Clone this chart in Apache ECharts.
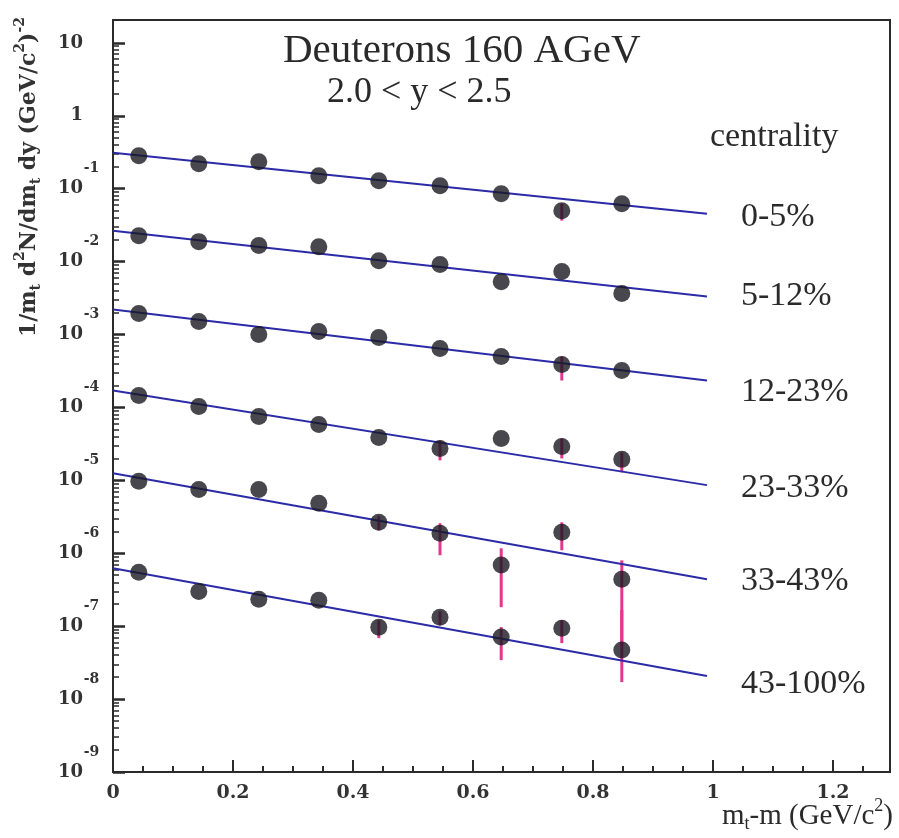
<!DOCTYPE html>
<html><head><meta charset="utf-8">
<script src="https://cdn.jsdelivr.net/npm/echarts@6/dist/echarts.min.js"></script>
<style>html,body{margin:0;padding:0;background:#fff}#c{width:899px;height:838px}</style>
</head><body><div id="c"></div>
<script>
// ---- data ----
const xValues = [0.043, 0.143, 0.243, 0.343, 0.443, 0.545, 0.647, 0.748, 0.848];
const centralityLabels = ['0-5%', '5-12%', '12-23%', '23-33%', '33-43%', '43-100%'];

const yield_0_5    = [0.283, 0.22, 0.234, 0.151, 0.129, 0.11, 0.0855, 0.05, 0.0624];
const yield_5_12   = [0.0227, 0.0188, 0.0166, 0.016, 0.0103, 0.0091, 0.0053, 0.0073, 0.00365];
const yield_12_23  = [0.00194, 0.00151, 0.001, 0.0011, 0.00091, 0.000643, 0.0005, 0.000388, 0.000321];
const yield_23_33  = [1.46e-4, 1.03e-4, 7.5e-5, 5.85e-5, 3.88e-5, 2.74e-5, 3.76e-5, 2.92e-5, 1.94e-5];
const yield_33_43  = [9.7e-6, 7.5e-6, 7.5e-6, 4.84e-6, 2.66e-6, 1.88e-6, 6.9e-7, 1.94e-6, 4.4e-7];
const yield_43_100 = [5.5e-7, 3.0e-7, 2.34e-7, 2.27e-7, 9.7e-8, 1.33e-7, 7.1e-8, 9.4e-8, 4.7e-8];

const errLo_0_5    = [null, null, null, null, null, null, null, 0.0365, null];
const errHi_0_5    = [null, null, null, null, null, null, null, 0.0624, null];
const errLo_5_12   = [null, null, null, null, null, null, null, null, null];
const errHi_5_12   = [null, null, null, null, null, null, null, null, null];
const errLo_12_23  = [null, null, null, null, null, null, null, 2.34e-4, null];
const errHi_12_23  = [null, null, null, null, null, null, null, 5.0e-4, null];
const errLo_23_33  = [null, null, null, null, null, 1.88e-5, null, 2.0e-5, 1.29e-5];
const errHi_23_33  = [null, null, null, null, null, 3.53e-5, null, 3.76e-5, 2.42e-5];
const errLo_33_43  = [null, null, null, null, 2.07e-6, 9.4e-7, 1.82e-7, 1.1e-6, 5.5e-8];
const errHi_33_43  = [null, null, null, null, 3.21e-6, 2.58e-6, 1.17e-6, 2.66e-6, 8.0e-7];
const errLo_43_100 = [null, null, null, null, 6.86e-8, 1.03e-7, 3.42e-8, 5.85e-8, 1.71e-8];
const errHi_43_100 = [null, null, null, null, 1.21e-7, 1.6e-7, 9.7e-8, 1.21e-7, 1.66e-7];

const fitX = [0, 0.99];
const fit_0_5    = [0.311, 0.0455];
const fit_5_12   = [0.0266, 0.00332];
const fit_12_23  = [0.0022, 2.34e-4];
const fit_23_33  = [1.71e-4, 8.6e-6];
const fit_33_43  = [1.25e-5, 4.4e-7];
const fit_43_100 = [6.24e-7, 2.07e-8];

const xMajorTicks = [0, 0.2, 0.4, 0.6, 0.8, 1, 1.2];
const xMinorTicks = [0.05, 0.1, 0.15, 0.25, 0.3, 0.35, 0.45, 0.5, 0.55, 0.65, 0.7, 0.75, 0.85, 0.9, 0.95, 1.05, 1.1, 1.15, 1.25];
const yDecadeTicks = [1e-9, 1e-8, 1e-7, 1e-6, 1e-5, 1e-4, 1e-3, 1e-2, 1e-1, 1, 10];
const yMinorTicks = [];
yDecadeTicks.slice(0, -1).forEach(d => { for (let k = 2; k <= 9; k++) yMinorTicks.push(+(k * d).toPrecision(3)); });

const yieldSets = [yield_0_5, yield_5_12, yield_12_23, yield_23_33, yield_33_43, yield_43_100];
const errLoSets = [errLo_0_5, errLo_5_12, errLo_12_23, errLo_23_33, errLo_33_43, errLo_43_100];
const errHiSets = [errHi_0_5, errHi_5_12, errHi_12_23, errHi_23_33, errHi_33_43, errHi_43_100];
const fitSets = [fit_0_5, fit_5_12, fit_12_23, fit_23_33, fit_33_43, fit_43_100];
const labelShift = [3, 0, 12, 3, 2, 8];

// ---- chart ----
const SERIF = 'Liberation Serif';
const DV = 'DejaVu Serif';
const INK = '#2a2a2a';
const X_MIN = 0, X_MAX = 1.295, Y_MIN = 1e-9, Y_MAX = 20.6;

const series = [];
centralityLabels.forEach((name, i) => {
  series.push({
    type: 'custom', name: name + ' err', xAxisIndex: 0, yAxisIndex: 0, z: 3,
    data: xValues.map((x, j) => [x, errLoSets[i][j], errHiSets[i][j]]).filter(d => d[1] != null),
    encode: { x: 0, y: [1, 2] },
    renderItem: (params, api) => {
      const a = api.coord([api.value(0), api.value(1)]);
      const b = api.coord([api.value(0), api.value(2)]);
      return { type: 'line', shape: { x1: a[0], y1: a[1], x2: b[0], y2: b[1] },
               style: { stroke: '#e2378c', lineWidth: 3 } };
    },
    silent: true
  });
  series.push({
    type: 'line', name: name, xAxisIndex: 0, yAxisIndex: 0, z: 4,
    data: fitX.map((x, j) => [x, fitSets[i][j]]),
    showSymbol: false, symbol: 'none', silent: true,
    lineStyle: { color: '#2b2ba8', width: 2 },
    endLabel: { show: true, formatter: '{a}', distance: 34, offset: [0, labelShift[i]],
      fontFamily: SERIF, fontSize: 34, color: INK },
    animation: false
  });
  series.push({
    type: 'scatter', name: name + ' pts', xAxisIndex: 0, yAxisIndex: 0, z: 5,
    data: xValues.map((x, j) => [x, yieldSets[i][j]]),
    symbol: 'circle', symbolSize: 17,
    itemStyle: { color: '#1a1922' }, silent: true
  });
});

const expLabel = v => {
  const e = Math.round(Math.log10(v));
  if (e === 1) return '{b|10}{s| }';
  if (e === 0) return '{b|1}{s| }';
  return '{b|10}{e|' + e + '}';
};

const option = {
  animation: false,
  backgroundColor: '#ffffff',
  grid: { left: 113, right: 9, top: 20, bottom: 66, show: true, borderColor: INK, borderWidth: 2, backgroundColor: 'transparent' },
  xAxis: [
    { type: 'value', min: X_MIN, max: X_MAX, position: 'bottom',
      axisLine: { onZero: false, lineStyle: { color: INK, width: 2 } },
      axisTick: { inside: true, length: 12, lineStyle: { color: INK, width: 2 }, customValues: xMajorTicks },
      axisLabel: { customValues: xMajorTicks, margin: 12, fontFamily: DV, fontWeight: 'bold', fontSize: 19, color: '#333',
        formatter: v => String(v) },
      splitLine: { show: false } },
    { type: 'value', min: X_MIN, max: X_MAX, position: 'bottom',
      axisLine: { show: false, onZero: false },
      axisTick: { inside: true, length: 6, lineStyle: { color: INK, width: 2 }, customValues: xMinorTicks },
      axisLabel: { show: false }, splitLine: { show: false } }
  ],
  yAxis: [
    { type: 'log', min: Y_MIN, max: Y_MAX, position: 'left',
      axisLine: { onZero: false, lineStyle: { color: INK, width: 2 } },
      axisTick: { inside: true, length: 12, lineStyle: { color: INK, width: 2.5 }, customValues: yDecadeTicks },
      axisLabel: { customValues: yDecadeTicks, margin: 13, formatter: expLabel,
        rich: {
          b: { fontFamily: DV, fontWeight: 'bold', fontSize: 18, color: '#333' },
          e: { fontFamily: DV, fontWeight: 'bold', fontSize: 14, color: '#333', width: 17, align: 'left', padding: [0, 0, 40, 0] },
          s: { fontSize: 14, width: 17 }
        } },
      splitLine: { show: false } },
    { type: 'log', min: Y_MIN, max: Y_MAX, position: 'left',
      axisLine: { show: false, onZero: false },
      axisTick: { inside: true, length: 6, lineStyle: { color: INK, width: 1.5 }, customValues: yMinorTicks },
      axisLabel: { show: false }, splitLine: { show: false } }
  ],
  graphic: [
    { type: 'text', x: 283, y: 51, style: { text: 'Deuterons 160 AGeV', fontFamily: SERIF, fontSize: 41, fill: INK, textVerticalAlign: 'middle', textAlign: 'left' } },
    { type: 'text', x: 327, y: 93, style: { text: '2.0 < y < 2.5', fontFamily: SERIF, fontSize: 36, fill: INK, textVerticalAlign: 'middle', textAlign: 'left' } },
    { type: 'text', x: 710, y: 137, style: { text: 'centrality', fontFamily: SERIF, fontSize: 34, fill: INK, textVerticalAlign: 'middle', textAlign: 'left' } },
    { type: 'text', x: 29, y: 177, rotation: Math.PI / 2,
      style: { text: '{n|1/m}{sub|t}{n| d}{sup|2}{n|N/dm}{sub|t}{n| dy (GeV/c}{sup|2}{n|)}{sup|-2}',
        textAlign: 'center', textVerticalAlign: 'middle',
        rich: {
          n: { fontFamily: DV, fontWeight: 'bold', fontSize: 22, fill: '#333' },
          sub: { fontFamily: DV, fontWeight: 'bold', fontSize: 14, fill: '#333', padding: [14, 0, 0, 0] },
          sup: { fontFamily: DV, fontWeight: 'bold', fontSize: 14, fill: '#333', padding: [0, 0, 18, 0] }
        } } },
    { type: 'text', x: 893, y: 816,
      style: { text: '{n|m}{sub|t}{n|-m (GeV/c}{sup|2}{n|)}', textAlign: 'right', textVerticalAlign: 'middle',
        rich: {
          n: { fontFamily: SERIF, fontSize: 29, fill: INK },
          sub: { fontFamily: SERIF, fontSize: 18, fill: INK, padding: [16, 0, 0, 0] },
          sup: { fontFamily: SERIF, fontSize: 18, fill: INK, padding: [0, 0, 20, 0] }
        } } }
  ],
  series: series
};

const chart = echarts.init(document.getElementById('c'));
chart.setOption(option);
</script>
</body></html>
